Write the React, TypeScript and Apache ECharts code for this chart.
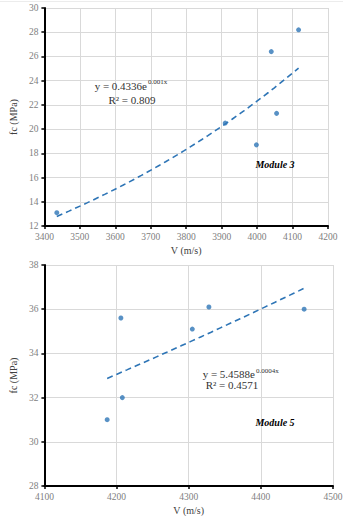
import React, { useEffect, useRef } from "react";
import * as echarts from "echarts";

// Module 3 data
const xs1 = [3435, 3910, 3998, 4040, 4055, 4117];
const ys1 = [13.1, 20.5, 18.7, 26.4, 21.3, 28.2];
// Module 5 data
const xs2 = [4187, 4206, 4208, 4305, 4328, 4460];
const ys2 = [31.0, 35.6, 32.0, 35.1, 36.1, 36.0];

const eq1 = ["y = 0.4336e", "0.001x", "R² = 0.809"];
const eq2 = ["y = 5.4588e", "0.0004x", "R² = 0.4571"];
const moduleLabels = ["Module 3", "Module 5"];

const FONT = "'Liberation Serif', 'Times New Roman', serif";
const BLUE = "#2E75B6";

function expFit(xs: number[], ys: number[]) {
  const n = xs.length;
  const ly = ys.map((v) => Math.log(v));
  const mx = xs.reduce((s, v) => s + v, 0) / n;
  const my = ly.reduce((s, v) => s + v, 0) / n;
  let sxy = 0, sxx = 0;
  for (let i = 0; i < n; i++) {
    sxy += (xs[i] - mx) * (ly[i] - my);
    sxx += (xs[i] - mx) * (xs[i] - mx);
  }
  const b = sxy / sxx;
  const a = Math.exp(my - b * mx);
  return { a, b };
}

function trend(xs: number[], ys: number[]) {
  const { a, b } = expFit(xs, ys);
  const x0 = Math.min(...xs);
  const x1 = Math.max(...xs);
  const out: number[][] = [];
  const N = 40;
  for (let i = 0; i <= N; i++) {
    const x = x0 + ((x1 - x0) * i) / N;
    out.push([x, a * Math.exp(b * x)]);
  }
  return out;
}

function xAxisCfg(grid: number, min: number, max: number) {
  return {
    type: "value",
    gridIndex: grid,
    min,
    max,
    interval: 100,
    name: "V (m/s)",
    nameLocation: "middle",
    nameGap: 19,
    nameTextStyle: { fontFamily: FONT, fontSize: 10, color: "#404040" },
    axisLine: { show: true, onZero: false, lineStyle: { color: "#000", width: 2 } },
    axisTick: { show: true, length: 3, lineStyle: { color: "#000", width: 1.5 } },
    axisLabel: {
      fontFamily: FONT,
      fontSize: 9.5,
      color: "#808080",
      margin: 6,
      formatter: (v: number) => String(v),
    },
    splitLine: { show: true, lineStyle: { color: "#d9d9d9", width: 1 } },
  };
}

function yAxisCfg(grid: number, min: number, max: number) {
  return {
    type: "value",
    gridIndex: grid,
    min,
    max,
    interval: 2,
    name: "fc (MPa)",
    nameLocation: "middle",
    nameGap: 21,
    nameTextStyle: { fontFamily: FONT, fontSize: 10, color: "#404040" },
    axisLine: { show: true, onZero: false, lineStyle: { color: "#000", width: 2 } },
    axisTick: { show: true, length: 3, lineStyle: { color: "#000", width: 1.5 } },
    axisLabel: {
      fontFamily: FONT,
      fontSize: 9.5,
      color: "#808080",
      margin: 6,
      formatter: (v: number) => String(v),
    },
    splitLine: { show: true, lineStyle: { color: "#d9d9d9", width: 1 } },
  };
}

export default function App() {
  const ref = useRef<HTMLDivElement>(null);

  useEffect(() => {
    if (!ref.current) return;
    const chart = echarts.init(ref.current, undefined, { renderer: "svg" });
    const txt = (x: number, y: number, text: string, size: number, align: string, extra: any = {}) => ({
      type: "text",
      x,
      y,
      z: 100,
      style: {
        text,
        fontFamily: FONT,
        fontSize: size,
        fill: "#333",
        align,
        verticalAlign: "middle",
        ...extra,
      },
    });
    chart.setOption({
      animation: false,
      grid: [
        { left: 39, top: 8, width: 289, height: 218 },
        { left: 35, top: 265, width: 298, height: 226 },
      ],
      xAxis: [xAxisCfg(0, 3400, 4200), xAxisCfg(1, 4100, 4500)],
      yAxis: [yAxisCfg(0, 12, 30), { ...yAxisCfg(1, 28, 38), nameGap: 20 }],
      series: [
        {
          type: "scatter",
          xAxisIndex: 0,
          yAxisIndex: 0,
          data: xs1.map((x, i) => [x, ys1[i]]),
          symbolSize: 5,
          itemStyle: { color: BLUE },
          z: 3,
        },
        {
          type: "line",
          xAxisIndex: 0,
          yAxisIndex: 0,
          data: trend(xs1, ys1),
          showSymbol: false,
          smooth: false,
          lineStyle: { color: BLUE, width: 1.6, type: [6, 4] },
          z: 2,
        },
        {
          type: "scatter",
          xAxisIndex: 1,
          yAxisIndex: 1,
          data: xs2.map((x, i) => [x, ys2[i]]),
          symbolSize: 5,
          itemStyle: { color: BLUE },
          z: 3,
        },
        {
          type: "line",
          xAxisIndex: 1,
          yAxisIndex: 1,
          data: trend(xs2, ys2),
          showSymbol: false,
          lineStyle: { color: BLUE, width: 1.6, type: [6, 4] },
          z: 2,
        },
      ],
      graphic: [
        { type: "line", shape: { x1: 0, y1: 1.5, x2: 343, y2: 1.5 }, style: { stroke: "#ececec", lineWidth: 1 } },
        txt(147, 86, eq1[0], 11, "right"),
        txt(148, 82, eq1[1], 7, "left"),
        txt(132, 100, eq1[2], 11, "center"),
        txt(255, 374, eq2[0], 11, "right"),
        txt(256, 370.5, eq2[1], 7, "left"),
        txt(232, 385, eq2[2], 11, "center"),
        txt(275, 164, moduleLabels[0], 10, "center", { fontWeight: "bold", fontStyle: "italic", fill: "#000" }),
        txt(275, 422, moduleLabels[1], 10, "center", { fontWeight: "bold", fontStyle: "italic", fill: "#000" }),
      ],
    });
    return () => chart.dispose();
  }, []);

  return (
    <div
      ref={ref}
      style={{ position: "fixed", left: 0, top: 0, width: 346, height: 516, background: "#fff" }}
    />
  );
}
